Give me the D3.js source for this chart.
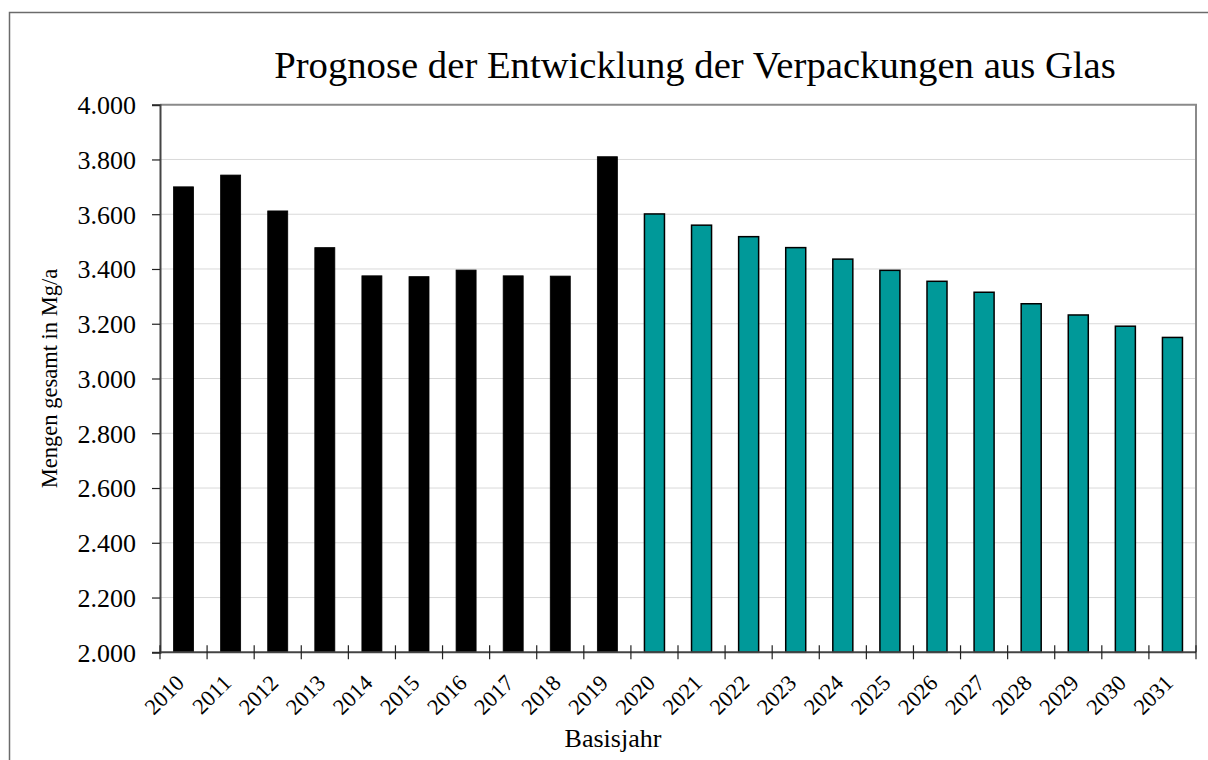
<!DOCTYPE html>
<html>
<head>
<meta charset="utf-8">
<script src="https://cdn.jsdelivr.net/npm/d3@7"></script>
<style>
  body { margin: 0; background: #fff; }
  text { font-family: "Liberation Serif", "Times New Roman", serif; fill: #000; }
</style>
</head>
<body>
<script>
// Data
var years = ['2010','2011','2012','2013','2014','2015','2016','2017','2018','2019',
             '2020','2021','2022','2023','2024','2025','2026','2027','2028','2029','2030','2031'];
var values = [3700, 3743, 3612, 3478, 3375, 3372, 3396, 3375, 3374, 3810,
              3601, 3560, 3518, 3478, 3436, 3395, 3355, 3315, 3273, 3232, 3191, 3150];
var firstForecast = '2020';
var yTicks = [2000, 2200, 2400, 2600, 2800, 3000, 3200, 3400, 3600, 3800, 4000];

// Layout
var W = 1208, H = 760;
var plot = { left: 160, right: 1196, top: 104.7, bottom: 652.3 };
var formatDE = d3.formatLocale({ decimal: ',', thousands: '.', grouping: [3] }).format(',d');

var svg = d3.select('body').append('svg')
    .attr('width', W)
    .attr('height', H);

// outer frame
svg.append('rect')
    .attr('x', 9.5).attr('y', 12.5)
    .attr('width', W + 10).attr('height', H + 10)
    .attr('fill', 'none')
    .attr('stroke', '#6b6b6b')
    .attr('stroke-width', 1.5);

// Scales
var x = d3.scaleBand()
    .domain(years)
    .range([plot.left, plot.right])
    .padding(0);
var y = d3.scaleLinear()
    .domain([2000, 4000])
    .range([plot.bottom, plot.top]);

var barW = x.bandwidth() * 0.425;

// gridlines
svg.append('g')
  .selectAll('line')
    .data(yTicks.slice(1, -1))
  .enter().append('line')
    .attr('x1', plot.left).attr('x2', plot.right)
    .attr('y1', function(d) { return y(d); })
    .attr('y2', function(d) { return y(d); })
    .attr('stroke', '#d9d9d9')
    .attr('stroke-width', 1);

// plot frame top / right
svg.append('path')
    .attr('d', 'M' + plot.left + ',' + plot.top + 'H' + plot.right + 'V' + plot.bottom)
    .attr('fill', 'none')
    .attr('stroke', '#8a8a8a')
    .attr('stroke-width', 2);

// Bars
svg.append('g')
  .selectAll('rect')
    .data(years)
  .enter().append('rect')
    .attr('x', function(d) { return x(d) + (x.bandwidth() - barW) / 2; })
    .attr('y', function(d, i) { return y(values[i]); })
    .attr('width', barW)
    .attr('height', function(d, i) { return plot.bottom - y(values[i]); })
    .attr('fill', function(d) { return d >= firstForecast ? '#009999' : '#000'; })
    .attr('stroke', '#000')
    .attr('stroke-width', function(d) { return d >= firstForecast ? 1.5 : 0.8; });

// Y axis
var yAxis = d3.axisLeft(y)
    .tickValues(yTicks)
    .tickSize(8)
    .tickPadding(16)
    .tickFormat(function(d) { return formatDE(d); });
var gy = svg.append('g')
    .attr('transform', 'translate(' + plot.left + ',0)')
    .call(yAxis);
gy.select('.domain').attr('stroke', '#444').attr('stroke-width', 2);
gy.selectAll('.tick line').attr('stroke', '#222').attr('stroke-width', 1.2);
gy.selectAll('.tick text')
    .style('font-family', '"Liberation Serif", serif')
    .style('font-size', '26px')
    .attr('dy', '0.34em');

// X axis
var gx = svg.append('g')
    .attr('transform', 'translate(0,' + plot.bottom + ')');
gx.append('line')
    .attr('x1', plot.left).attr('x2', plot.right)
    .attr('stroke', '#444').attr('stroke-width', 2);
var edges = years.map(function(d) { return x(d); }).concat([plot.right]);
gx.selectAll('.xtick')
    .data(edges)
  .enter().append('line')
    .attr('class', 'xtick')
    .attr('x1', function(d) { return d; }).attr('x2', function(d) { return d; })
    .attr('y1', -7).attr('y2', 7)
    .attr('stroke', '#222').attr('stroke-width', 1.2);
gx.selectAll('.xlabel')
    .data(years)
  .enter().append('text')
    .attr('class', 'xlabel')
    .attr('transform', function(d) {
        return 'translate(' + (x(d) + x.bandwidth() / 2 + 2) + ',32) rotate(-45)';
    })
    .style('text-anchor', 'end')
    .style('font-size', '22.5px')
    .text(function(d) { return d; });

// Titles
svg.append('text')
    .attr('x', 695).attr('y', 78)
    .style('text-anchor', 'middle')
    .style('font-size', '38.7px')
    .text('Prognose der Entwicklung der Verpackungen aus Glas');

svg.append('text')
    .attr('x', 613).attr('y', 747)
    .style('text-anchor', 'middle')
    .style('font-size', '26px')
    .text('Basisjahr');

svg.append('text')
    .attr('transform', 'translate(57,' + ((plot.top + plot.bottom) / 2) + ') rotate(-90)')
    .style('text-anchor', 'middle')
    .style('font-size', '22.5px')
    .text('Mengen gesamt in Mg/a');
</script>
</body>
</html>
